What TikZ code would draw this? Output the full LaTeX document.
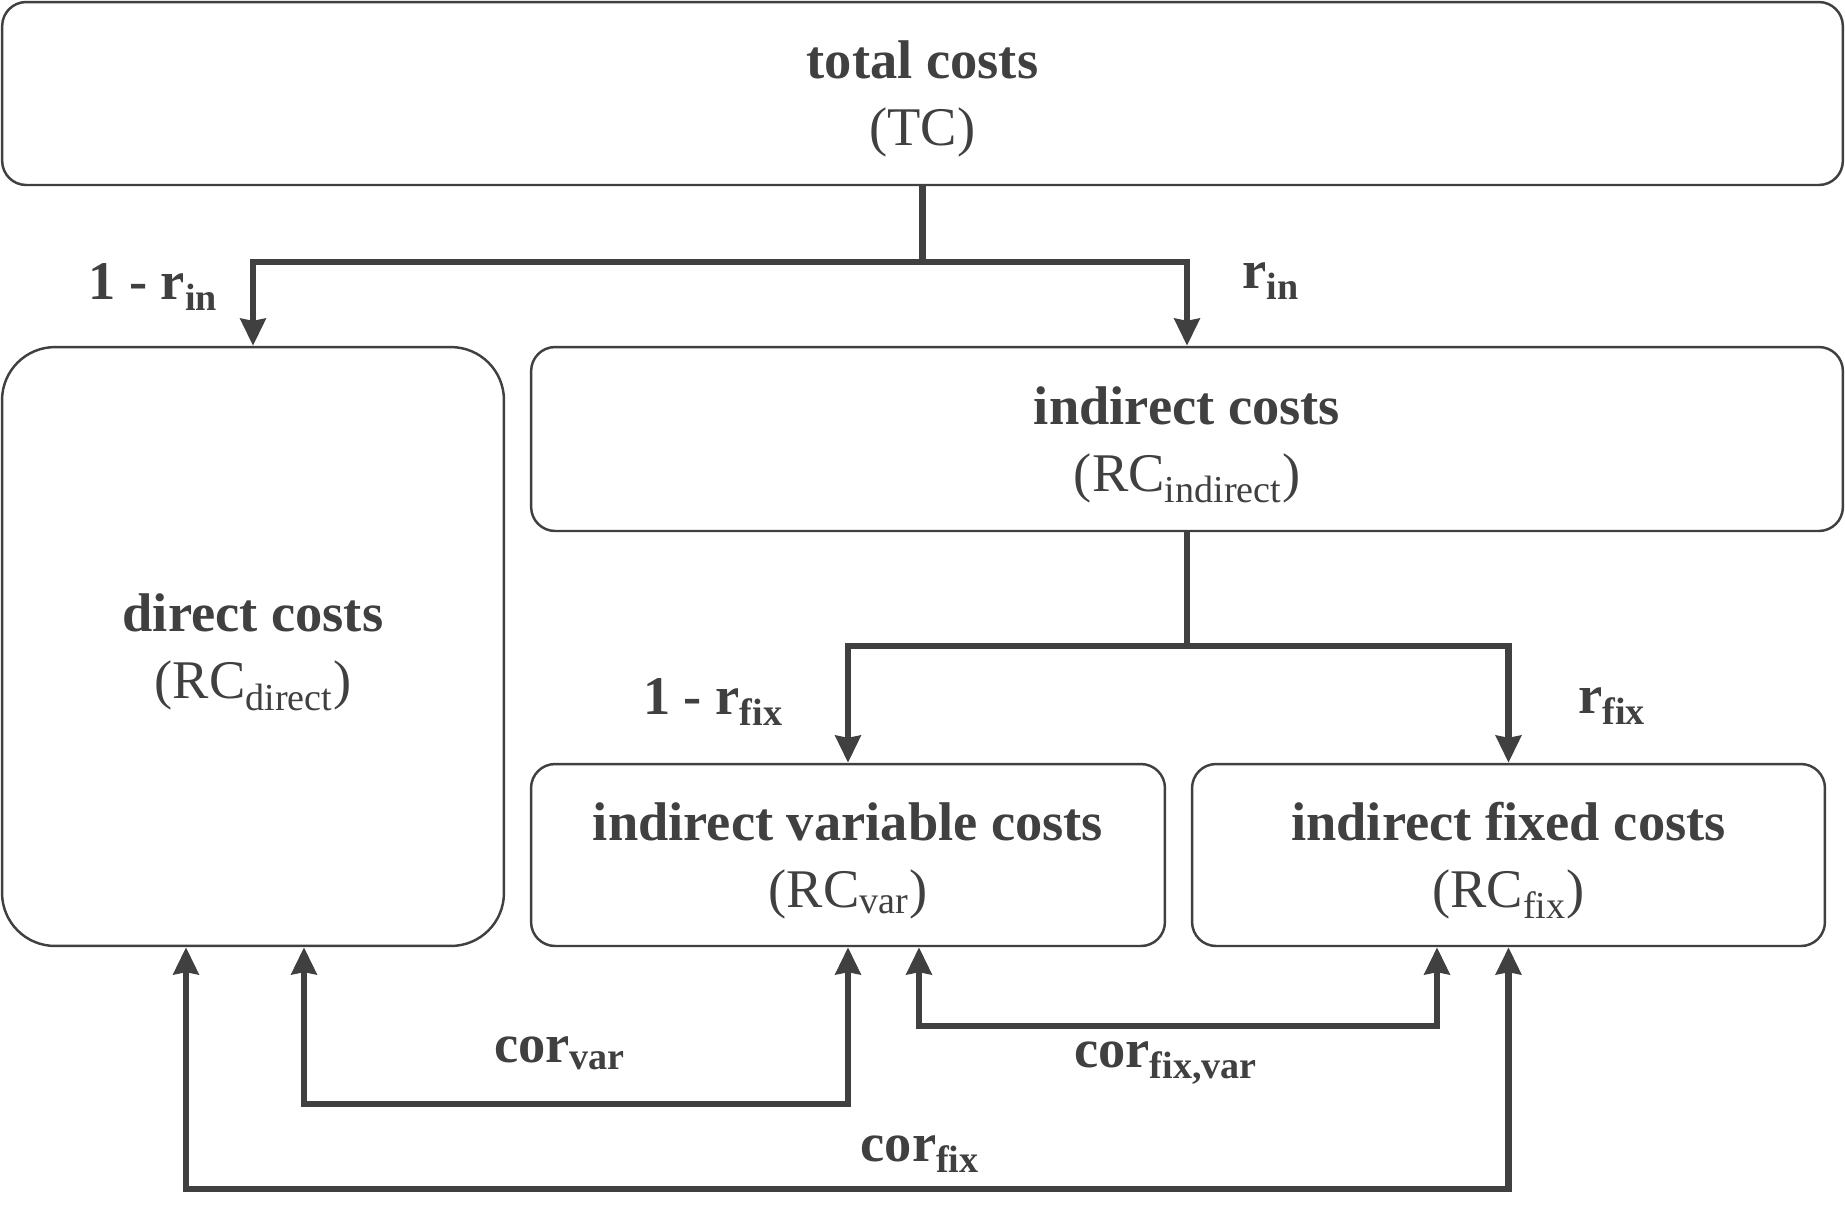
\documentclass[tikz,border=0pt]{standalone}
\usepackage{fontspec}
\setmainfont{Liberation Serif}
\usepackage{xcolor}
\usetikzlibrary{positioning,calc,arrows.meta}
\definecolor{darkgrey}{HTML}{404040}
\newcommand{\topgap}{\rule{0pt}{28pt}}

\begin{document}
\begin{tikzpicture}[x=0.02cm,y=-0.02cm,
                    >={Stealth[length=0.54cm,width=0.5cm,inset=0.04cm]},
                    every node/.style={text=darkgrey,font=\fontsize{31}{38}\selectfont},
                    costbox/.style={draw=darkgrey,line width=1.4pt,rounded corners=0.48cm,align=center,inner sep=0pt},
                    flow/.style={draw=darkgrey,line width=3.7pt},
                    rate/.style={font=\fontsize{31}{38}\selectfont\bfseries}]
            \useasboundingbox (0,0) rectangle (1845,1208);
            %Nodes
                \node[costbox,minimum width=36.82cm,minimum height=3.66cm] (tc) at (922.5,93.5) {\topgap\textbf{total costs}\\(TC)};
                \node[costbox,minimum width=10.04cm,minimum height=11.98cm,rounded corners=1.06cm] (dir) at (253,646.5) {\topgap\textbf{direct costs}\\(RC\textsubscript{direct})};
                \node[costbox,minimum width=26.24cm,minimum height=3.68cm] (ind) at (1187,439) {\topgap\textbf{indirect costs}\\(RC\textsubscript{indirect})};
                \node[costbox,minimum width=12.68cm,minimum height=3.64cm] (var) at (848,855) {\topgap\textbf{indirect variable costs}\\(RC\textsubscript{var})};
                \node[costbox,minimum width=12.66cm,minimum height=3.64cm] (fix) at (1508.5,855) {\topgap\textbf{indirect fixed costs}\\(RC\textsubscript{fix})};

            %Labels
                \node[rate] (lin) at (153,287) {1 - r\textsubscript{in}};
                \node[rate] (rin) at (1271,281) {r\textsubscript{in}};
                \node[rate] (lfix) at (713,702) {1 - r\textsubscript{fix}};
                \node[rate] (rfix) at (1612,706) {r\textsubscript{fix}};
                \node[rate] (cvar) at (560,1053) {cor\textsubscript{var}};
                \node[rate] (cfv) at (1166,1063) {cor\textsubscript{fix,var}};
                \node[rate] (cfix) at (920,1154) {cor\textsubscript{fix}};

            %Lines
                \draw[flow,->] (tc.south) -- ++(0,76) -| (dir.north);
                \draw[flow,->] (tc.south) -- ++(0,76) -| (ind.north);
                \draw[flow,->] (ind.south) -- ++(0,114) -| (var.north);
                \draw[flow,->] (ind.south) -- ++(0,114) -| (fix.north);
                \draw[flow,<->] ($(dir.south)+(51,0)$) -- ++(0,157) -| (var.south);
                \draw[flow,<->] ($(var.south)+(71,0)$) -- ++(0,79) -| ($(fix.south)+(-71.5,0)$);
                \draw[flow,<->] ($(dir.south)+(-67,0)$) -- ++(0,242) -| (fix.south);
\end{tikzpicture}
\end{document}
